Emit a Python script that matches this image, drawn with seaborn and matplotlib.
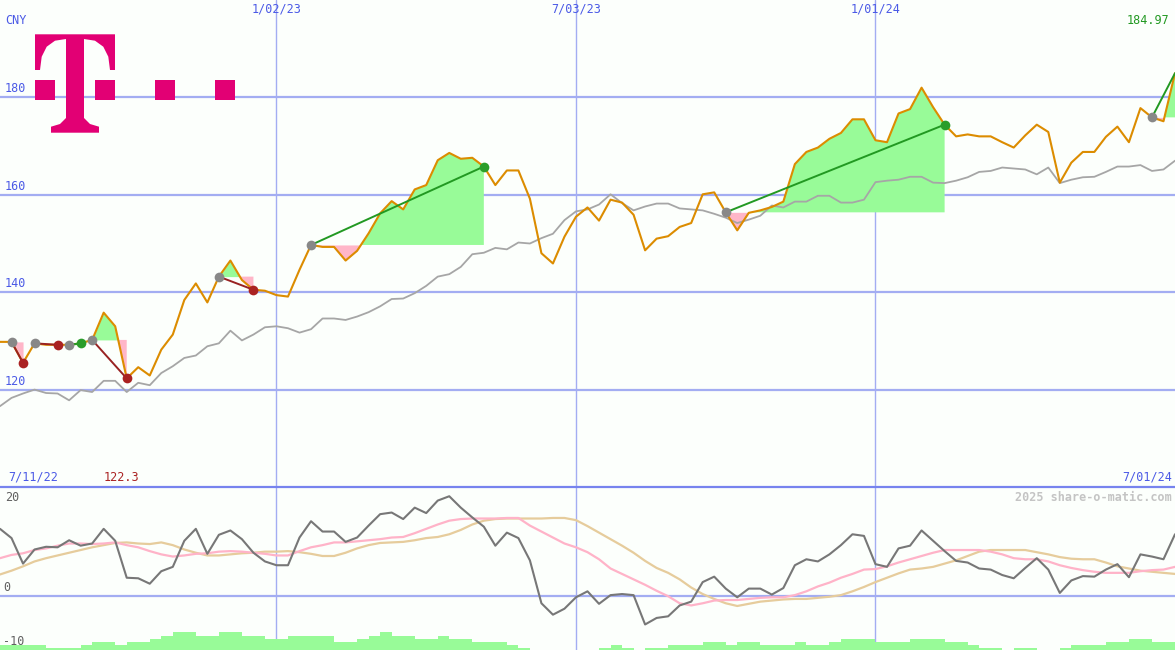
import pandas as pd
import numpy as np
import seaborn as sns
import matplotlib.pyplot as plt
from matplotlib.patches import Polygon, Rectangle

sns.set_theme(style='white')
plt.rcParams['font.family'] = ['DejaVu Sans Mono']

# ukentlige data, mandager
dates = pd.date_range('2022-07-18', '2024-07-01', freq='W-MON')
period_start = '7/11/22'

# kurs (CNY)
price = [129.8, 129.8, 125.5, 129.5, 129.2, 129.2, 129.2, 129.5, 130.2, 135.8,
         133.0, 122.3, 124.6, 122.9, 128.2, 131.3, 138.4, 141.8, 137.9, 143.2,
         146.5, 142.5, 140.5, 140.3, 139.4, 139.1, 144.6, 149.7, 149.3, 149.3,
         146.5, 148.5, 152.1, 156.2, 158.7, 157.0, 161.1, 162.0, 167.1, 168.6,
         167.4, 167.6, 165.8, 162.0, 165.0, 165.0, 159.2, 148.0, 145.9, 151.4,
         155.5, 157.4, 154.7, 159.0, 158.4, 155.9, 148.6, 151.0, 151.5, 153.4,
         154.2, 160.1, 160.5, 156.4, 152.7, 156.3, 156.8, 157.5, 158.6, 166.3,
         168.8, 169.7, 171.5, 172.7, 175.5, 175.5, 171.2, 170.8, 176.7, 177.6,
         182.0, 178.0, 174.4, 172.0, 172.4, 172.0, 172.0, 170.8, 169.7, 172.2,
         174.4, 172.9, 162.5, 166.6, 168.8, 168.8, 171.9, 174.0, 170.8, 177.8,
         175.9, 175.1, 184.97]

# referanseindeks (skalert)
bench = [116.6, 118.3, 119.2, 120.0, 119.3, 119.2, 117.8, 119.9, 119.5, 121.8,
         121.8, 119.5, 121.4, 120.9, 123.4, 124.8, 126.5, 127.0, 128.9, 129.5,
         132.1, 130.1, 131.3, 132.8, 133.0, 132.6, 131.7, 132.4, 134.6, 134.6,
         134.3, 135.0, 135.9, 137.1, 138.6, 138.7, 139.8, 141.3, 143.2, 143.7,
         145.2, 147.8, 148.1, 149.1, 148.8, 150.2, 150.0, 151.1, 152.0, 154.8,
         156.6, 157.0, 158.0, 160.1, 158.3, 156.8, 157.6, 158.2, 158.2, 157.2,
         157.0, 156.8, 156.1, 155.3, 154.2, 154.9, 155.7, 157.8, 157.4, 158.6,
         158.6, 159.8, 159.8, 158.4, 158.4, 159.0, 162.6, 162.9, 163.1, 163.7,
         163.7, 162.5, 162.4, 162.9, 163.6, 164.7, 164.9, 165.6, 165.4, 165.2,
         164.2, 165.6, 162.4, 163.1, 163.6, 163.7, 164.7, 165.8, 165.8, 166.1,
         164.9, 165.2, 167.0]

# oscillator og glidende snitt
osc = [12.3, 10.6, 5.9, 8.5, 9.0, 8.9, 10.2, 9.2, 9.6, 12.3,
       10.1, 3.3, 3.2, 2.2, 4.5, 5.3, 10.1, 12.3, 7.7, 11.2,
       12.0, 10.4, 7.9, 6.3, 5.6, 5.6, 10.7, 13.7, 11.8, 11.8,
       9.9, 10.7, 12.9, 15.0, 15.3, 14.1, 16.2, 15.2, 17.5, 18.3,
       16.2, 14.4, 12.7, 9.2, 11.6, 10.6, 6.5, -1.4, -3.5, -2.4,
       -0.3, 0.8, -1.5, 0.1, 0.3, 0.1, -5.3, -4.1, -3.8, -1.8,
       -1.1, 2.5, 3.5, 1.3, -0.3, 1.3, 1.3, 0.2, 1.4, 5.6,
       6.7, 6.3, 7.6, 9.3, 11.3, 11.0, 5.8, 5.3, 8.7, 9.2,
       12.0, 10.1, 8.2, 6.4, 6.1, 5.0, 4.8, 3.8, 3.2, 5.1,
       6.9, 4.8, 0.5, 2.8, 3.6, 3.5, 4.8, 5.8, 3.4, 7.6,
       7.2, 6.7, 11.3]

osc_short = [6.9, 7.5, 7.8, 8.4, 8.7, 9.2, 9.6, 9.6, 9.5, 9.6,
             9.8, 9.3, 8.9, 8.2, 7.6, 7.2, 7.4, 7.7, 7.8, 8.1,
             8.2, 8.1, 7.9, 7.7, 7.4, 7.4, 8.2, 8.9, 9.3, 9.8,
             9.8, 10.0, 10.2, 10.4, 10.7, 10.8, 11.5, 12.3, 13.1, 13.8,
             14.1, 14.2, 14.2, 14.2, 14.3, 14.3, 12.9, 11.8, 10.7, 9.6,
             8.9, 8.0, 6.7, 5.0, 4.0, 3.0, 2.0, 0.9, -0.1, -1.4,
             -1.8, -1.4, -0.9, -0.8, -0.8, -0.6, -0.4, -0.3, -0.3, 0.1,
             0.8, 1.7, 2.4, 3.3, 4.0, 4.8, 4.9, 5.4, 6.1, 6.7,
             7.3, 7.9, 8.4, 8.4, 8.4, 8.4, 8.1, 7.6, 6.9, 6.7,
             6.7, 6.3, 5.6, 5.1, 4.7, 4.4, 4.2, 4.2, 4.2, 4.5,
             4.7, 4.8, 5.3]

osc_long = [3.9, 4.6, 5.4, 6.3, 6.9, 7.4, 7.9, 8.4, 8.9, 9.3,
            9.7, 9.8, 9.6, 9.5, 9.8, 9.3, 8.5, 7.9, 7.4, 7.4,
            7.6, 7.8, 7.9, 8.1, 8.1, 8.2, 8.0, 7.7, 7.3, 7.3,
            7.9, 8.7, 9.3, 9.7, 9.8, 9.9, 10.2, 10.6, 10.8, 11.3,
            12.1, 13.1, 13.8, 14.1, 14.2, 14.2, 14.2, 14.2, 14.3, 14.3,
            13.9, 12.8, 11.6, 10.4, 9.2, 7.9, 6.4, 5.1, 4.2, 3.0,
            1.5, 0.3, -0.6, -1.4, -1.9, -1.5, -1.1, -0.9, -0.7, -0.6,
            -0.6, -0.4, -0.2, 0.1, 0.8, 1.6, 2.5, 3.3, 4.1, 4.8,
            5.0, 5.3, 5.9, 6.5, 7.3, 8.1, 8.4, 8.4, 8.4, 8.4,
            8.0, 7.6, 7.1, 6.8, 6.7, 6.7, 6.1, 5.4, 5.0, 4.6,
            4.4, 4.2, 4.0]

nan = np.nan
volume = [-9.1, -9.1, -9.1, -9.1, -9.6, -9.6, -9.6, -9.1, -8.5, -8.5,
          -9.1, -8.5, -8.5, -8.0, -7.4, -6.7, -6.7, -7.4, -7.4, -6.7,
          -6.7, -7.4, -7.4, -8.0, -8.0, -7.4, -7.4, -7.4, -7.4, -8.5,
          -8.5, -8.0, -7.4, -6.7, -7.4, -7.4, -8.0, -8.0, -7.4, -8.0,
          -8.0, -8.5, -8.5, -8.5, -9.1, -9.6, nan, nan, nan, nan,
          nan, nan, -9.6, -9.1, -9.6, nan, -9.6, -9.6, -9.1, -9.1,
          -9.1, -8.5, -8.5, -9.1, -8.5, -8.5, -9.1, -9.1, -9.1, -8.5,
          -9.1, -9.1, -8.5, -8.0, -8.0, -8.0, -8.5, -8.5, -8.5, -8.0,
          -8.0, -8.0, -8.5, -8.5, -9.1, -9.6, -9.6, nan, -9.6, -9.6,
          nan, nan, -9.6, -9.1, -9.1, -9.1, -8.5, -8.5, -8.0, -8.0,
          -8.5, -8.5, nan]

# handler: kjøpsuke og salgsuke (indeks)
trade_start = [1, 3, 6, 8, 19, 27, 63, 100]
trade_end = [2, 5, 7, 11, 22, 42, 82, 102]

price_ticks = [120, 140, 160, 180]
osc_ticks = [20, 0, -10]
grid_dates = pd.to_datetime(['2023-01-02', '2023-07-03', '2024-01-01'])

df = pd.DataFrame({'dato': dates, 'kurs': price, 'indeks': bench, 'osc': osc,
                   'kort': osc_short, 'lang': osc_long, 'volum': volume})

bg = '#fcfffc'
blue = '#4b5ae6'
gridc = '#a3adf2'
green_fill = '#98fb98'
pink_fill = '#ffb6c8'

fig = plt.figure(figsize=(11.75, 6.5), dpi=100)
fig.patch.set_facecolor(bg)
ax1 = fig.add_axes([0, 163 / 650, 1, 487 / 650])
ax2 = fig.add_axes([0, 0, 1, 163 / 650])

for ax in (ax1, ax2):
    ax.set_facecolor(bg)
    for s in ax.spines.values():
        s.set_visible(False)
    ax.set_xlim(dates[0], dates[-1])
    ax.set_xticks(grid_dates)
    ax.tick_params(length=0, labelbottom=False, labelleft=False)
    ax.grid(axis='x', color=gridc, lw=1.0)
    ax.set_axisbelow(True)

ax1.set_ylim(100, 200)
ax1.set_yticks(price_ticks)
ax1.grid(axis='y', color=gridc, lw=1.6)
ax2.set_ylim(-10, 20)
ax2.set_yticks([0])
ax2.grid(axis='y', color=gridc, lw=1.6)
ax2.spines['top'].set_visible(True)
ax2.spines['top'].set_color('#7783ee')
ax2.spines['top'].set_linewidth(1.6)

# fyll mellom kurs og kjøpskurs
for s, e in zip(trade_start, trade_end):
    seg = df.iloc[s:e + 1]
    lvl = price[s]
    x = seg['dato'].values
    y = seg['kurs'].values
    ax1.fill_between(x, y, lvl, where=y >= lvl, interpolate=True, color=green_fill, lw=0, zorder=1)
    ax1.fill_between(x, y, lvl, where=y <= lvl, interpolate=True, color=pink_fill, lw=0, zorder=1)

sns.lineplot(data=df, x='dato', y='indeks', ax=ax1, color='#a6a6a6', linewidth=1.3, zorder=2)
sns.lineplot(data=df, x='dato', y='kurs', ax=ax1, color='#dc8c00', linewidth=1.5, zorder=3)

for s, e in zip(trade_start, trade_end):
    win = price[e] > price[s]
    lc = '#229922' if win else '#992222'
    ax1.plot([dates[s], dates[e]], [price[s], price[e]], color=lc, lw=1.4, zorder=4)
    ax1.plot(dates[s], price[s], 'o', color='#888888', ms=7, mew=0, zorder=5)
    if e < len(dates) - 1:
        ax1.plot(dates[e], price[e], 'o', color='#2a9d2a' if win else '#aa2222', ms=7, mew=0, zorder=5)

ax1.set_xlabel('')
ax1.set_ylabel('')

# nedre panel
ax2.bar(df['dato'], df['volum'] + 10, bottom=-10, width=7, align='edge', color=green_fill, lw=0, zorder=1)
sns.lineplot(data=df, x='dato', y='lang', ax=ax2, color='#e6cc9c', linewidth=1.6, zorder=2)
sns.lineplot(data=df, x='dato', y='kort', ax=ax2, color='#ffb3c8', linewidth=1.6, zorder=3)
sns.lineplot(data=df, x='dato', y='osc', ax=ax2, color='#777777', linewidth=1.5, zorder=4)
ax2.set_xlabel('')
ax2.set_ylabel('')
ax2.set_xlim(dates[0], dates[-1])

fs = 8.5
# tekster
for v in price_ticks:
    ax1.annotate(str(v), xy=(0, v), xycoords=('axes fraction', 'data'), xytext=(5, 2),
                 textcoords='offset pixels', ha='left', va='bottom', color=blue, fontsize=fs)
for d in grid_dates:
    ax1.annotate(f'{d.month}/{d.day:02d}/{d.year % 100}', xy=(d, 1), xycoords=('data', 'axes fraction'),
                 xytext=(0, -3), textcoords='offset pixels', ha='center', va='top', color=blue, fontsize=fs)
ax1.annotate('CNY', xy=(0, 1), xycoords='axes fraction', xytext=(5, -14), textcoords='offset pixels',
             ha='left', va='top', color=blue, fontsize=fs)
ax1.annotate(f'{price[-1]:.2f}', xy=(1, 1), xycoords='axes fraction', xytext=(-6, -14), textcoords='offset pixels',
             ha='right', va='top', color='#229922', fontsize=fs)
ax1.annotate(period_start, xy=(0, 0), xycoords='axes fraction', xytext=(8, 3), textcoords='offset pixels',
             ha='left', va='bottom', color=blue, fontsize=fs)
last = dates[-1]
ax1.annotate(f'{last.month}/{last.day:02d}/{last.year % 100}', xy=(1, 0), xycoords='axes fraction',
             xytext=(-3, 3), textcoords='offset pixels', ha='right', va='bottom', color=blue, fontsize=fs)
imin = int(np.argmin(price))
ax1.annotate(f'{price[imin]:.1f}', xy=(dates[imin], 0), xycoords=('data', 'axes fraction'), xytext=(-5, 3),
             textcoords='offset pixels', ha='center', va='bottom', color='#aa2222', fontsize=fs)

for v in osc_ticks:
    if v == 20:
        ax2.annotate(str(v), xy=(0, v), xycoords=('axes fraction', 'data'), xytext=(5, -4),
                     textcoords='offset pixels', ha='left', va='top', color='#606060', fontsize=fs)
    else:
        ax2.annotate(str(v), xy=(0, v), xycoords=('axes fraction', 'data'), xytext=(3, 2),
                     textcoords='offset pixels', ha='left', va='bottom', color='#606060', fontsize=fs)
ax2.annotate('2025 share-o-matic.com', xy=(1, 1), xycoords='axes fraction', xytext=(-3, -4),
             textcoords='offset pixels', ha='right', va='top', color='#c4c4c4', fontsize=fs, fontweight='bold')

# logo
ov = fig.add_axes([0, 0, 1, 1], zorder=10)
ov.set_xlim(0, 1175)
ov.set_ylim(650, 0)
ov.axis('off')
mag = '#e20074'
t_shape = [(35, 34.3), (115, 34.3), (115, 70), (110, 70), (108.3, 56.7), (103.3, 46.7), (95, 40.7),
           (84, 39), (84, 118), (90, 124), (99, 126.7), (99, 132.7), (51, 132.7), (51, 126.7),
           (60, 124), (66, 118), (66, 39), (55, 40.7), (46.7, 46.7), (41.7, 56.7), (40, 70), (35, 70)]
ov.add_patch(Polygon(t_shape, closed=True, color=mag, lw=0))
for x0 in [35, 95, 155, 215]:
    ov.add_patch(Rectangle((x0, 80), 20, 20, color=mag, lw=0))

fig.savefig('out.png', dpi=100, facecolor=bg)
